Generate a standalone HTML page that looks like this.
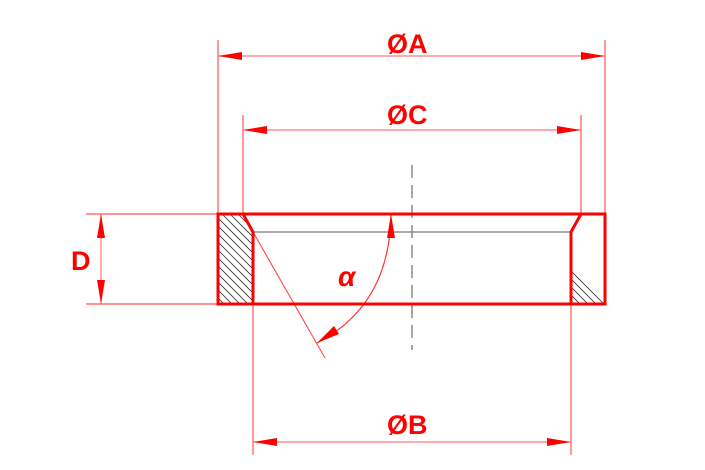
<!DOCTYPE html>
<html><head><meta charset="utf-8"><style>html,body{margin:0;padding:0;background:#fff}svg{display:block}</style></head>
<body>
<svg width="705" height="470" viewBox="0 0 705 470" xmlns="http://www.w3.org/2000/svg">
<defs>
<clipPath id="hl"><polygon points="218,214 243,214 253,232 253,304 218,304"/></clipPath>
<clipPath id="hr"><polygon points="571,270 605,304 571,304"/></clipPath>
</defs>
<!-- hatching -->
<g clip-path="url(#hl)" stroke="#333" stroke-width="0.8">
<line x1="180" y1="180" x2="300" y2="300"/><line x1="180" y1="188" x2="300" y2="308"/><line x1="180" y1="196" x2="300" y2="316"/><line x1="180" y1="204" x2="300" y2="324"/><line x1="180" y1="212" x2="300" y2="332"/><line x1="180" y1="220" x2="300" y2="340"/><line x1="180" y1="228" x2="300" y2="348"/><line x1="180" y1="236" x2="300" y2="356"/><line x1="180" y1="244" x2="300" y2="364"/><line x1="180" y1="252" x2="300" y2="372"/><line x1="180" y1="260" x2="300" y2="380"/><line x1="180" y1="268" x2="300" y2="388"/><line x1="180" y1="276" x2="300" y2="396"/><line x1="180" y1="172" x2="300" y2="292"/><line x1="180" y1="164" x2="300" y2="284"/><line x1="180" y1="156" x2="300" y2="276"/><line x1="180" y1="148" x2="300" y2="268"/><line x1="180" y1="140" x2="300" y2="260"/>
</g>
<g clip-path="url(#hr)" stroke="#333" stroke-width="0.8">
<line x1="540" y1="240" x2="620" y2="320"/><line x1="540" y1="248" x2="620" y2="328"/><line x1="540" y1="256" x2="620" y2="336"/><line x1="540" y1="264" x2="620" y2="344"/><line x1="540" y1="272" x2="620" y2="352"/>
</g>
<!-- gray inner line and centerline -->
<line x1="253" y1="232" x2="571" y2="232" stroke="#777" stroke-width="1.2"/>
<line x1="412" y1="165" x2="412" y2="350" stroke="#888" stroke-width="1.5" stroke-dasharray="13,7"/>
<!-- extension lines -->
<g stroke="#ff5555" stroke-width="1.2">
<line x1="218" y1="40" x2="218" y2="214"/><line x1="605" y1="40" x2="605" y2="214"/>
<line x1="243" y1="115" x2="243" y2="214" stroke="#ff9999" stroke-width="2"/><line x1="581" y1="115" x2="581" y2="214" stroke="#ff9999" stroke-width="2"/>
<line x1="253" y1="304" x2="253" y2="455" stroke="#ff9999" stroke-width="2"/><line x1="571" y1="304" x2="571" y2="455" stroke="#ff9999" stroke-width="2"/>
<line x1="86" y1="214" x2="218" y2="214"/><line x1="86" y1="304" x2="218" y2="304"/>
<line x1="253" y1="232" x2="325" y2="358"/>
</g>
<!-- dimension lines -->
<g stroke="#ff7777" stroke-width="1.2" fill="none">
<line x1="218" y1="56" x2="605" y2="56"/>
<line x1="243" y1="130" x2="581" y2="130"/>
<line x1="253" y1="442" x2="571" y2="442"/>
<line x1="101" y1="214" x2="101" y2="304"/>
<path d="M391,214 Q390,305 317,343" stroke="#ff3333"/>
</g>
<!-- arrowheads -->
<g fill="#ff0000">
<polygon points="218,56 242,52 242,60"/><polygon points="605,56 581,52 581,60"/>
<polygon points="243,130 267,126 267,134"/><polygon points="581,130 557,126 557,134"/>
<polygon points="253,442 277,438 277,446"/><polygon points="571,442 547,438 547,446"/>
<polygon points="101,214 97,238 105,238"/><polygon points="101,304 97,280 105,280"/>
<polygon points="391,214 387,238 395,238"/><polygon points="317,343 334,326 339,334"/>
</g>
<!-- part outline -->
<polygon points="218,214 605,214 605,304 218,304" fill="none" stroke="#ff0000" stroke-width="3"/>
<polyline points="243,214 253,232 253,304" fill="none" stroke="#ff0000" stroke-width="3"/>
<polyline points="581,214 571,232 571,304" fill="none" stroke="#ff0000" stroke-width="3"/>
<!-- labels -->
<g font-family="Liberation Sans, sans-serif" font-weight="bold" fill="#ff0000" font-size="27">
<text x="387" y="53">ØA</text>
<text x="387" y="124">ØC</text>
<text x="387" y="434">ØB</text>
<text x="71" y="270">D</text>
<text x="338" y="286" font-size="28" font-style="italic">α</text>
</g>
</svg>
</body></html>
